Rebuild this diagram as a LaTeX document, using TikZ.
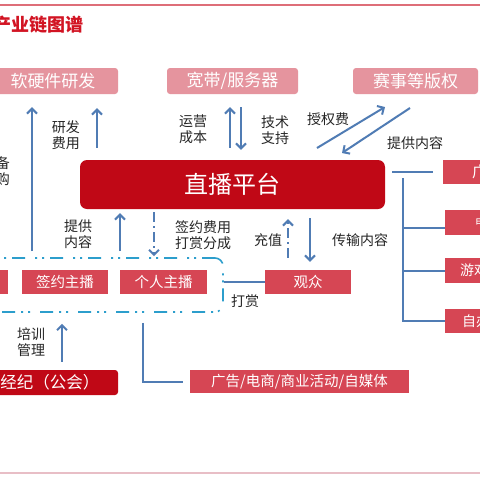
\documentclass[tikz,border=0pt]{standalone}
\usepackage{fontspec}
\setmainfont{Noto Sans CJK SC}
\usetikzlibrary{arrows.meta,calc}
\definecolor{pinkc}{RGB}{229,148,158}
\definecolor{darkred}{RGB}{192,8,22}
\definecolor{midred}{RGB}{214,70,84}
\definecolor{arrblue}{RGB}{80,124,180}
\definecolor{dashcyan}{RGB}{44,158,204}
\definecolor{titlered}{RGB}{210,20,35}
\definecolor{topred}{RGB}{222,110,120}
\definecolor{botpink}{RGB}{232,190,198}
\begin{document}
\begin{tikzpicture}[x=1pt,y=-1pt,
  box/.style={inner sep=0pt, text=white, anchor=center},
  pinkbox/.style={box, fill=pinkc, rounded corners=3pt, minimum height=26pt, font=\fontsize{17}{20}\selectfont},
  redbox/.style={box, fill=midred, minimum height=24pt, font=\fontsize{14.5}{17}\selectfont},
  darkbox/.style={box, fill=darkred, rounded corners=3pt},
  lbl/.style={inner sep=0pt, align=center, font=\fontsize{14}{16.5}\selectfont, text=black!85},
  arr/.style={draw=arrblue, line width=2pt, -{Straight Barb[length=5pt,width=10pt]}},
  darr/.style={arr, dash pattern=on 10pt off 4pt on 2pt off 4pt},
  tree/.style={draw=arrblue, line width=2pt},
]
\useasboundingbox (0,0) rectangle (480,480);
\fill[white] (0,0) rectangle (480,480);
\draw[topred, line width=1.3pt] (0,5) -- (480,5);
\draw[botpink, line width=1.2pt] (0,473) -- (480,473);
\node[anchor=west, inner sep=0pt, text=titlered, font=\bfseries\fontsize{18}{20}\selectfont] (title) at (-7,25) {产业链图谱};

% top boxes
\node[pinkbox, minimum width=130pt] (soft) at (53,81) {软硬件研发};
\node[pinkbox, minimum width=131pt] (bw) at (232.5,81) {宽带/服务器};
\node[pinkbox, minimum width=125pt] (rights) at (415.5,81) {赛事等版权};

% platform
\node[darkbox, rounded corners=7pt, minimum width=305pt, minimum height=49pt, font=\fontsize{24}{28}\selectfont] (plat) at (232.5,184.5) {直播平台};

% right boxes
\node[redbox, minimum width=88pt, font=\fontsize{15}{17}\selectfont] (r1) at (487,172) {广告};
\node[redbox, minimum width=104pt, minimum height=25pt, font=\fontsize{11}{13}\selectfont] (r2) at (497,222.5) {电子竞技};
\node[redbox, minimum width=86pt, minimum height=25pt, font=\fontsize{14}{16}\selectfont] (r3) at (488,270.5) {游戏直播};
\node[redbox, minimum width=90pt, font=\fontsize{14}{16}\selectfont] (r4) at (490,321) {自办赛事};

% group of anchors
\node[draw=dashcyan, line width=1.6pt, dash pattern=on 13pt off 6pt on 2pt off 5pt on 2pt off 10pt, rounded corners=8pt, minimum width=243pt, minimum height=54pt, inner sep=0pt] (grp) at (101.5,285) {};
\node[redbox, minimum width=48pt] (lpart) at (-16,282) {};
\node[redbox, minimum width=86pt] (sign) at (65,282) {签约主播};
\node[redbox, minimum width=87pt] (pers) at (163.5,282) {个人主播};
\node[redbox, minimum width=86pt] (aud) at (308,282) {观众};

% bottom boxes
\node[darkbox, minimum width=136pt, minimum height=25pt, font=\fontsize{16.5}{19}\selectfont] (agency) at (50,382.5) {经纪（公会）};
\node[redbox, minimum width=219pt, minimum height=23pt] (comm) at (299.5,381.5) {广告/电商/商业活动/自媒体};

% x positions of vertical connectors
\coordinate (xa1) at (32,0);
\coordinate (xa2) at (97,0);
\coordinate (xa3) at (230,0);
\coordinate (xa4) at (241,0);
\coordinate (xa7) at (120,0);
\coordinate (xa8) at (154,0);
\coordinate (xa9) at (288,0);
\coordinate (xa10) at (310,0);
\coordinate (xa12) at (62,0);
\coordinate (xl) at (143,0);

% vertical arrows
\draw[arr, shorten <=6pt, shorten >=13pt] (grp.north -| xa1) -- (soft.south -| xa1);
\draw[arr, shorten <=12pt, shorten >=14pt] (plat.north -| xa2) -- (soft.south -| xa2);
\draw[arr, shorten <=12pt, shorten >=13pt] (plat.north -| xa3) -- (bw.south -| xa3);
\draw[arr, shorten <=13pt, shorten >=10pt] (bw.south -| xa4) -- (plat.north -| xa4);
\draw[arr, shorten <=6pt, shorten >=4pt] (grp.north -| xa7) -- (plat.south -| xa7);
\draw[darr, shorten <=3pt, shorten >=1pt] (plat.south -| xa8) -- (grp.north -| xa8);
\draw[darr, shorten <=12pt, shorten >=10pt] (aud.north -| xa9) -- (plat.south -| xa9);
\draw[arr, shorten <=9pt, shorten >=8pt] (plat.south -| xa10) -- (aud.north -| xa10);
\draw[arr, shorten <=8pt, shorten >=11pt] (agency.north -| xa12) -- (grp.south -| xa12);

% diagonal arrows
\coordinate (d1) at (317,148);
\coordinate (d2) at (385,107);
\coordinate (d3) at (410,108);
\coordinate (d4) at (342,153);
\draw[arr] (d1) -- (d2);
\draw[arr] (d3) -- (d4);

% plain connectors
\draw[tree] (grp.east |- aud.west) -- (aud.west);
\draw[tree, shorten >=7pt] ([yshift=-10pt]grp.south -| xl) |- (comm.west);
\draw[tree, shorten <=7pt, shorten >=10pt] (plat.east |- r1.west) -- (r1.west);
\coordinate (tv) at (403,178);
\coordinate (b2) at (403,228);
\coordinate (b3) at (403,270.5);
\draw[tree] (tv) |- (r4.west);
\draw[tree] (b2) -- (b2 -| r2.west);
\draw[tree] (b3) -- (b3 -| r3.west);

% labels
\node[lbl, anchor=east] (lb1) at (10,171) {设备\\采购};
\node[lbl] (lb2) at (66,135) {研发\\费用};
\node[lbl] (lb3) at (193,129) {运营\\成本};
\node[lbl] (lb4) at (275,130) {技术\\支持};
\node[lbl] (lb5) at (328,119) {授权费};
\node[lbl] (lb6) at (415,143) {提供内容};
\node[lbl] (lb7) at (78,234) {提供\\内容};
\node[lbl] (lb8) at (203,235) {签约费用\\打赏分成};
\node[lbl] (lb9) at (268,240) {充值};
\node[lbl] (lb10) at (360,240) {传输内容};
\node[lbl] (lb11) at (245,301) {打赏};
\node[lbl] (lb12) at (31,342) {培训\\管理};
\end{tikzpicture}
\end{document}
